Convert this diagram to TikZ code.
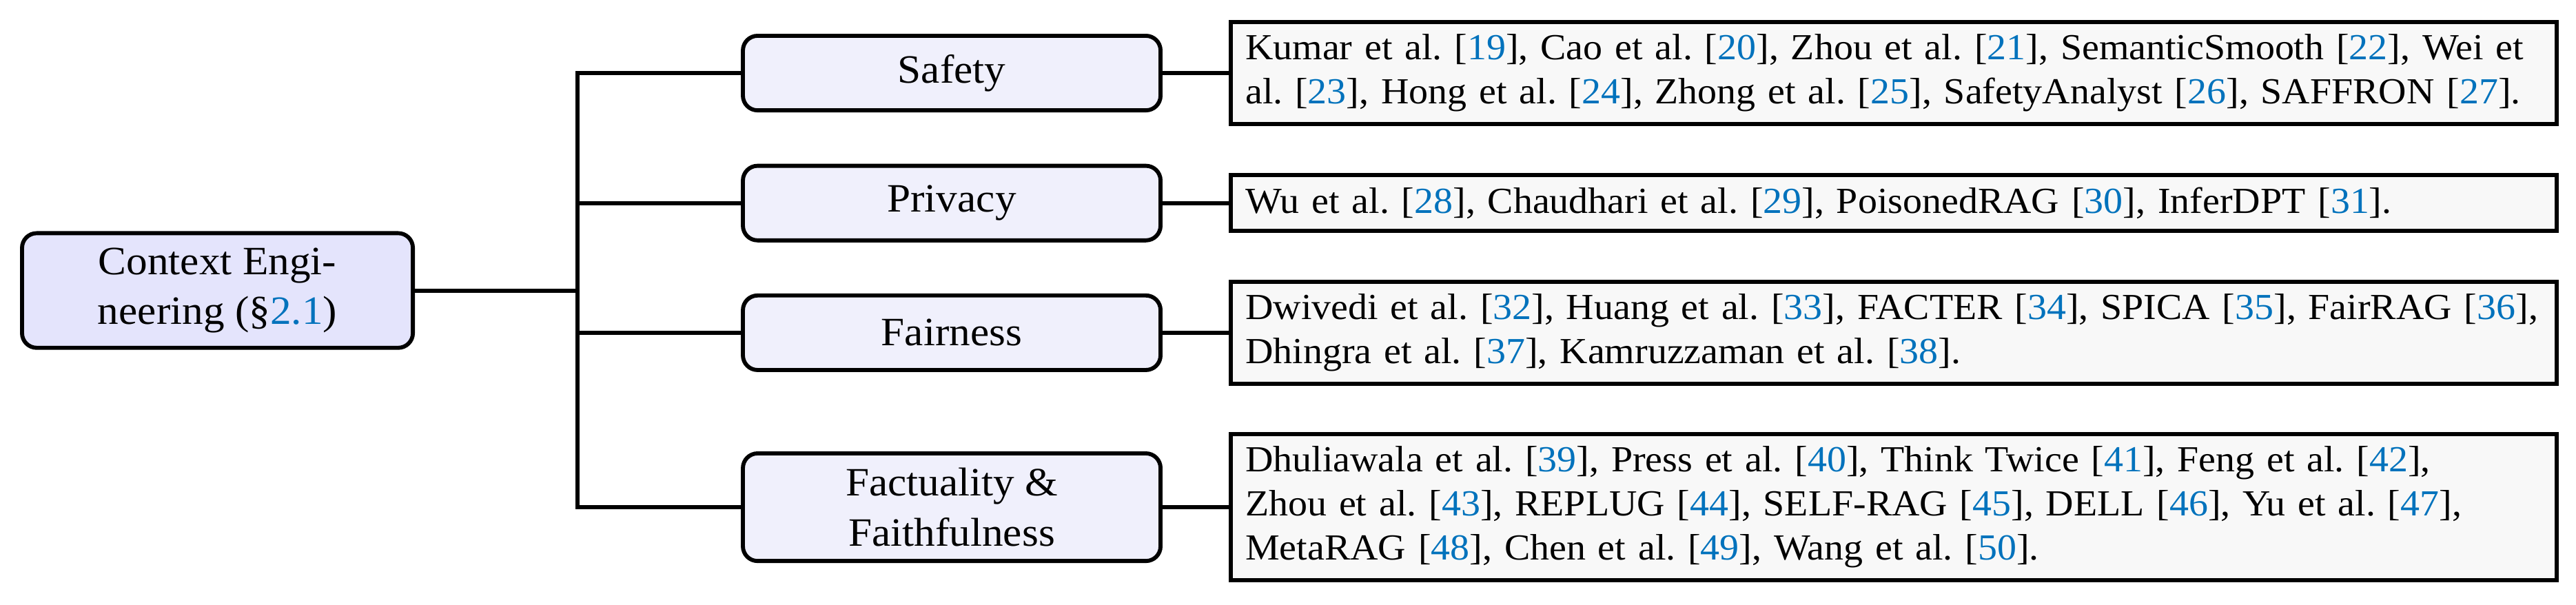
\documentclass[tikz,border=0pt]{standalone}
\usepackage{fontspec}
\setmainfont{Liberation Serif}[FakeStretch=1.05]
\usepackage{tikz}
\usetikzlibrary{positioning}
\usepackage{xcolor}
\definecolor{rootfill}{RGB}{228,228,252}
\definecolor{catfill}{RGB}{240,240,252}
\definecolor{leaffill}{RGB}{248,248,248}
\definecolor{citeblue}{RGB}{0,114,188}
\newcommand{\rf}[1]{[\textcolor{citeblue}{#1}]}
\hyphenpenalty=10000

\begin{document}
\begin{tikzpicture}[
        line width=1.1pt,
        root/.style={draw, rounded corners=4pt, fill=rootfill, align=center, inner sep=4pt, minimum width=106.4pt, font=\fontsize{10.95}{13.6}\selectfont},
        cat/.style={draw, rounded corners=4pt, fill=catfill, align=center, inner sep=4pt, minimum width=113.7pt, minimum height=20.3pt, font=\fontsize{10.95}{13.6}\selectfont},
        leaf/.style={draw, fill=leaffill, align=left, inner xsep=4pt, inner ysep=3.3pt, text width=353pt, font=\fontsize{10}{12}\selectfont}
    ]
        \useasboundingbox (0,0) rectangle (701.3pt,-164.7pt);

        % Root
        \node[root] (root) at (59.2pt,-79.1pt) {Context Engi-\\neering (\S\textcolor{citeblue}{2.1})};

        % Categories
        \node[cat] (safety) at (259.1pt,-19.9pt) {Safety};
        \node[cat] (privacy) at (259.1pt,-55.3pt) {Privacy};
        \node[cat] (fairness) at (259.1pt,-90.6pt) {Fairness};
        \node[cat] (factual) at (259.1pt,-138.1pt) {Factuality \&\\Faithfulness};

        % References
        \node[leaf, right=18pt of safety] (safetyrefs) {Kumar et al.~\rf{19}, Cao et al.~\rf{20}, Zhou et al.~\rf{21}, SemanticSmooth~\rf{22}, Wei et\\al.~\rf{23}, Hong et al.~\rf{24}, Zhong et al.~\rf{25}, SafetyAnalyst~\rf{26}, SAFFRON~\rf{27}.};
        \node[leaf, right=18pt of privacy] (privacyrefs) {Wu et al.~\rf{28}, Chaudhari et al.~\rf{29}, PoisonedRAG~\rf{30}, InferDPT~\rf{31}.};
        \node[leaf, right=18pt of fairness] (fairnessrefs) {Dwivedi et al.~\rf{32}, Huang et al.~\rf{33}, FACTER~\rf{34}, SPICA~\rf{35}, FairRAG~\rf{36},\\Dhingra et al.~\rf{37}, Kamruzzaman et al.~\rf{38}.};
        \node[leaf, right=18pt of factual] (factualrefs) {Dhuliawala et al.~\rf{39}, Press et al.~\rf{40}, Think Twice~\rf{41}, Feng et al.~\rf{42},\\Zhou et al.~\rf{43}, REPLUG~\rf{44}, SELF-RAG~\rf{45}, DELL~\rf{46}, Yu et al.~\rf{47},\\MetaRAG~\rf{48}, Chen et al.~\rf{49}, Wang et al.~\rf{50}.};

        % Connectors
        \coordinate (fork) at (157.2pt,-79.1pt);
        \draw (root.east) -- (fork);
        \draw (safety.west) -| (fork) |- (factual.west);
        \draw (privacy.west) -- (privacy.west -| fork);
        \draw (fairness.west) -- (fairness.west -| fork);
        \foreach \x in {safety,privacy,fairness,factual}
            \draw (\x.east) -- (\x refs.west);
    \end{tikzpicture}
\end{document}
